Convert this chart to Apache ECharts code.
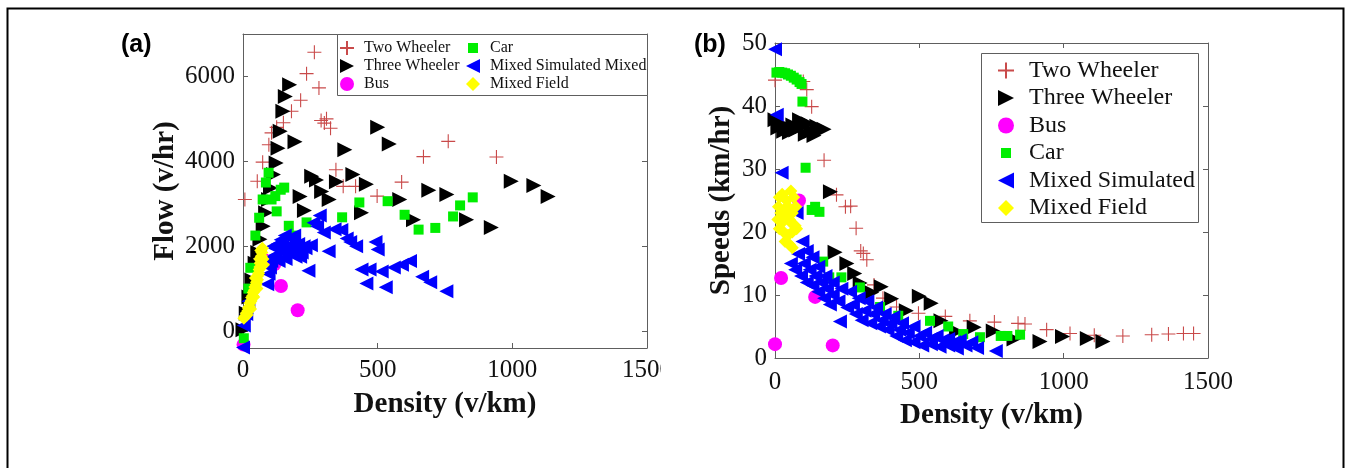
<!DOCTYPE html>
<html>
<head>
<meta charset="utf-8">
<script src="https://cdn.jsdelivr.net/npm/echarts@6/dist/echarts.min.js"></script>
<style>
html,body{margin:0;padding:0;background:#fff}
#chart{width:1347px;height:468px}
</style>
</head>
<body>
<div id="chart"></div>
<script>
// Panel (a): flow (v/hr) against density (v/km)
const flowTwoWheeler = [[7,3100],[53,3530],[73,3980],[96,4390],[106,4670],[125,4800],[150,4910],[180,5180],[214,5440],[236,6065],[265,6570],[282,5730],[290,4960],[302,4900],[310,5000],[325,4780],[345,3800],[372,3410],[418,3410],[498,3180],[589,3510],[670,4110],[762,4470],[941,4100]];
const flowThreeWheeler = [[0,30],[12,420],[22,800],[33,1200],[45,1600],[55,1850],[63,2160],[75,2470],[84,2790],[95,3100],[102,3370],[113,3690],[123,3960],[130,4310],[138,4710],[148,5180],[157,5530],[173,5805],[193,4460],[212,3170],[228,2840],[255,3650],[273,3560],[292,3290],[320,3100],[347,3520],[378,4270],[408,3690],[440,2790],[458,3460],[500,4800],[543,4410],[582,3100],[633,2620],[690,3320],[757,3220],[830,2620],[922,2440],[996,3530],[1080,3430],[1133,3170]];
const flowBus = [[2,-320],[75,1690],[116,1570],[141,1060],[203,490]];
const flowCar = [[3,-170],[20,1000],[27,1490],[46,2250],[60,2670],[73,3100],[85,3500],[95,3730],[106,3100],[120,3180],[125,2820],[140,3330],[153,3380],[170,2480],[186,2250],[236,2560],[368,2680],[432,3030],[537,3060],[600,2740],[652,2390],[714,2430],[780,2700],[806,2960],[853,3150]];
const flowMixedSimulated = [[0,-390],[3,130],[12,400],[20,700],[90,1100],[95,1350],[100,1500],[105,1650],[110,1750],[112,2000],[118,1950],[122,1800],[128,2050],[132,1650],[140,2150],[145,2000],[148,1850],[155,2250],[158,1700],[165,2000],[170,1850],[175,2200],[180,2050],[185,1900],[190,2250],[195,1750],[200,1900],[205,2050],[212,1750],[218,1850],[225,2000],[232,1950],[243,1420],[252,2020],[262,2550],[275,2470],[285,2720],[300,2320],[318,1880],[340,2400],[365,2380],[385,2180],[398,2100],[420,2000],[440,1450],[458,1120],[470,1450],[492,2100],[500,1920],[515,1400],[530,1030],[560,1500],[590,1560],[620,1650],[665,1280],[695,1150],[755,940]];
const flowMixedField = [[3,300],[8,350],[12,420],[15,380],[18,480],[20,540],[24,580],[26,660],[28,520],[30,710],[32,790],[36,830],[38,910],[40,800],[42,960],[44,1040],[46,1250],[48,1090],[50,1150],[52,1000],[54,1210],[55,1300],[58,1360],[60,1450],[62,1700],[63,1510],[64,1600],[66,1900],[67,1660],[68,1760],[70,1850],[72,1950],[74,1700],[76,1560]];

// Panel (b): speed (km/hr) against density (v/km)
const speedTwoWheeler = [[0,44.1],[98,43.9],[110,42.6],[127,39.9],[170,31.4],[213,25.9],[244,24.0],[262,24.1],[281,20.6],[297,17.0],[306,16.6],[318,15.6],[343,11.6],[374,9.5],[421,8.1],[497,7.1],[590,6.6],[675,5.9],[760,5.7],[842,5.5],[866,5.4],[941,4.5],[1022,3.9],[1106,3.6],[1205,3.5],[1305,3.7],[1363,3.8],[1415,3.9],[1450,3.9]];
const speedThreeWheeler = [[0,37.8],[10,36.5],[20,37.2],[30,36.0],[40,36.8],[50,35.8],[62,37.0],[72,36.2],[85,37.8],[95,36.8],[105,35.5],[115,37.2],[125,36.0],[135,35.3],[145,36.8],[158,36.4],[170,36.3],[192,26.4],[208,16.8],[249,15.0],[276,13.4],[295,11.9],[335,10.4],[368,11.3],[404,9.4],[455,7.5],[500,9.8],[541,8.7],[575,5.9],[629,4.2],[690,4.9],[756,4.3],[828,3.0],[918,2.6],[996,3.4],[1082,3.1],[1136,2.6]];
const speedBus = [[0,2.2],[21,12.7],[83,25.0],[139,9.7],[200,2.0]];
const speedCar = [[5,45.3],[15,45.4],[25,45.3],[35,45.2],[45,45.0],[55,44.8],[65,44.5],[75,44.2],[85,43.8],[92,43.5],[95,40.7],[106,30.2],[127,23.5],[139,24.0],[154,23.2],[167,15.3],[188,12.8],[230,12.8],[294,11.2],[364,8.1],[427,6.7],[537,5.9],[600,5.0],[652,3.8],[710,3.3],[782,3.5],[805,3.5],[849,3.7]];
const speedMixedSimulated = [[0,49.0],[6,38.6],[23,29.4],[75,23.0],
  [95,18.5],[110,17.0],[130,16.0],[150,14.5],[175,13.0],[200,12.0],[230,11.0],[260,10.5],[290,9.5],[320,9.0],[350,8.0],[380,7.0],[410,6.5],[440,5.5],[480,5.0],[520,4.0],[560,3.5],[600,3.0],[640,2.8],[680,2.5],
  [55,15.0],[70,14.0],[90,13.0],[110,12.0],[130,11.5],[150,10.5],[170,9.5],[190,8.5],[225,5.8],[250,8.0],[280,7.0],[300,6.0],[330,5.5],[360,5.0],[390,4.5],[420,3.5],[450,2.8],[480,2.5],[510,2.0],[540,2.2],[570,1.8],[600,2.0],[630,1.5],[660,2.0],[700,1.6],[765,1.1],
  [80,16.5],[100,15.0],[120,14.0],[140,13.0],[160,12.0],[180,11.0],[200,10.0],[220,9.0],[270,8.5],[310,7.5],[340,7.0],[370,6.0],[400,5.5],[430,4.5],[460,4.0],[500,3.5],[540,3.0],[580,2.8],[620,2.5]];
const speedMixedField = [[15,25.5],[25,26.0],[40,25.0],[55,26.5],[65,25.5],[12,24.0],[30,23.5],[45,24.0],[60,23.0],[72,24.0],[10,22.0],[25,21.5],[40,22.5],[55,21.5],[70,21.0],[15,20.5],[30,20.0],[45,19.5],[60,20.0],[75,20.5],[35,18.5],[50,18.0],[60,17.5],[20,23.0],[50,22.0]];

const densityTicks = [0, 500, 1000, 1500];
const flowTicks = [0, 2000, 4000, 6000];
const speedTicks = [0, 10, 20, 30, 40, 50];

const SERIF = '"Liberation Serif", "Times New Roman", serif';
const SANS = '"Liberation Sans", Arial, sans-serif';
const FRAME = '#5e5e5e';

const SYM_PLUS = 'path://M0,7L14,7M7,0L7,14';
const SYM_RIGHT = 'path://M0,0L14,7L0,14Z';
const SYM_LEFT = 'path://M14,0L0,7L14,14Z';

const styles = {
  two:   {symbol: SYM_PLUS, symbolSize: 14, itemStyle: {color: 'rgba(0,0,0,0)', borderColor: '#c94a4a', borderWidth: 1.1, opacity: 1}},
  three: {symbol: SYM_RIGHT, symbolSize: 15, itemStyle: {color: '#000000', opacity: 1}},
  bus:   {symbol: 'circle', symbolSize: 14, itemStyle: {color: '#ff00ff', opacity: 1}},
  car:   {symbol: 'rect', symbolSize: 10, itemStyle: {color: '#00ee00', opacity: 1}},
  sim:   {symbol: SYM_LEFT, symbolSize: 14, itemStyle: {color: '#0000ff', opacity: 1}},
  field: {symbol: 'diamond', symbolSize: 13, itemStyle: {color: '#ffff00', opacity: 1}}
};

function scatter(name, data, st, idx) {
  return Object.assign({
    type: 'scatter', name: name, data: data,
    xAxisIndex: idx * 2, yAxisIndex: idx * 2,
    clip: false, animation: false, emphasis: {disabled: true}
  }, st);
}

const plainNumber = v => String(v);

function boxAxes(grid, min, max, interval, isX, labelOpt, nameOpt, customTicks) {
  const tick = {show: true, inside: true, length: 5, lineStyle: {color: FRAME, width: 1}};
  const line = {show: true, onZero: false, lineStyle: {color: FRAME, width: 1}};
  const main = Object.assign({
    gridIndex: grid, type: 'value', min: min, max: max,
    position: isX ? 'bottom' : 'left',
    axisLine: line, axisTick: Object.assign({}, tick), splitLine: {show: false},
    axisLabel: Object.assign({fontFamily: SERIF, fontSize: 25, color: '#111', formatter: plainNumber}, labelOpt)
  }, nameOpt);
  const mirror = {
    gridIndex: grid, type: 'value', min: min, max: max,
    position: isX ? 'top' : 'right',
    axisLine: line, axisTick: Object.assign({}, tick), splitLine: {show: false},
    axisLabel: {show: false}
  };
  if (customTicks) {
    main.axisLabel.customValues = customTicks;
    main.axisTick.customValues = customTicks;
    mirror.axisTick.customValues = customTicks;
  } else {
    main.interval = interval;
    mirror.interval = interval;
  }
  return [main, mirror];
}

const titleStyle = {fontFamily: SERIF, fontSize: 29, fontWeight: 'bold', color: '#111'};

const xAxes = [].concat(
  boxAxes(0, densityTicks[0], densityTicks[3], 500, true, {margin: 10},
    {name: 'Density (v/km)', nameLocation: 'middle', nameGap: 42, nameTextStyle: titleStyle}),
  boxAxes(1, densityTicks[0], densityTicks[3], 500, true, {margin: 12},
    {name: 'Density (v/km)', nameLocation: 'middle', nameGap: 43, nameTextStyle: titleStyle})
);
const yAxes = [].concat(
  boxAxes(0, -400, 7000, null, false, {margin: 8},
    {name: 'Flow (v/hr)', nameLocation: 'middle', nameGap: 63, nameTextStyle: titleStyle}, flowTicks),
  boxAxes(1, speedTicks[0], speedTicks[5], 10, false, {margin: 8},
    {name: 'Speeds (km/hr)', nameLocation: 'middle', nameGap: 39, nameTextStyle: titleStyle})
);

const legendText = (size, pad) => ({fontFamily: SERIF, fontSize: size, color: '#111', padding: [0, 0, 0, pad]});
const carIconA = 'path://M0,0M14,14M2,2L12,2L12,12L2,12Z';

const option = {
  animation: false,
  backgroundColor: '#ffffff',
  grid: [
    {left: 243, top: 34, width: 404, height: 314},
    {left: 775, top: 43, width: 433, height: 315}
  ],
  xAxis: xAxes,
  yAxis: yAxes,
  legend: [
    {orient: 'vertical', left: 339, top: 40, padding: 0, itemWidth: 14, itemHeight: 14, itemGap: 2,
     selectedMode: false, textStyle: legendText(16, 5),
     data: ['Two Wheeler', 'Three Wheeler', 'Bus']},
    {orient: 'vertical', left: 466, top: 40, padding: 0, itemWidth: 14, itemHeight: 14, itemGap: 2,
     selectedMode: false, textStyle: legendText(16, 5),
     data: [{name: 'Car', icon: carIconA}, 'Mixed Simulated Mixed', 'Mixed Field']},
    {orient: 'vertical', left: 997, top: 58.5, padding: 0, itemWidth: 16, itemHeight: 16, itemGap: 3.5,
     selectedMode: false, textStyle: legendText(24, 10),
     data: ['Two Wheeler', 'Three Wheeler', 'Bus', {name: 'Car', icon: 'path://M0,0M16,16M3,3L13,3L13,13L3,13Z'}, 'Mixed Simulated', 'Mixed Field']}
  ],
  graphic: [
    {type: 'rect', left: 5, top: 6, z: 0, silent: true,
     shape: {width: 1336, height: 480}, style: {fill: 'none', stroke: '#000', lineWidth: 2}},
    {type: 'rect', left: 337, top: 34, z: 3, silent: true,
     shape: {width: 310, height: 61}, style: {fill: '#fff', stroke: FRAME, lineWidth: 1}},
    {type: 'rect', left: 981, top: 53, z: 3, silent: true,
     shape: {width: 217, height: 169}, style: {fill: '#fff', stroke: FRAME, lineWidth: 1}},
    {type: 'text', left: 121, top: 33, z: 10, silent: true,
     style: {text: '(a)', font: 'bold 25px ' + SANS, fill: '#000'}},
    {type: 'text', left: 694, top: 33, z: 10, silent: true,
     style: {text: '(b)', font: 'bold 25px ' + SANS, fill: '#000'}},
    // the left panel's last density label is cut by the right panel's edge
    {type: 'rect', left: 661, top: 354, z: 100, silent: true,
     shape: {width: 22, height: 36}, style: {fill: '#fff'}}
  ],
  series: [
    scatter('Two Wheeler', flowTwoWheeler, styles.two, 0),
    scatter('Three Wheeler', flowThreeWheeler, styles.three, 0),
    scatter('Bus', flowBus, styles.bus, 0),
    scatter('Car', flowCar, styles.car, 0),
    scatter('Mixed Simulated Mixed', flowMixedSimulated, styles.sim, 0),
    scatter('Mixed Field', flowMixedField, styles.field, 0),
    scatter('Two Wheeler', speedTwoWheeler, styles.two, 1),
    scatter('Three Wheeler', speedThreeWheeler, styles.three, 1),
    scatter('Bus', speedBus, styles.bus, 1),
    scatter('Car', speedCar, styles.car, 1),
    scatter('Mixed Simulated', speedMixedSimulated, styles.sim, 1),
    scatter('Mixed Field', speedMixedField, styles.field, 1)
  ]
};

const chart = echarts.init(document.getElementById('chart'), null, {renderer: 'canvas'});
chart.setOption(option);
</script>
</body>
</html>
